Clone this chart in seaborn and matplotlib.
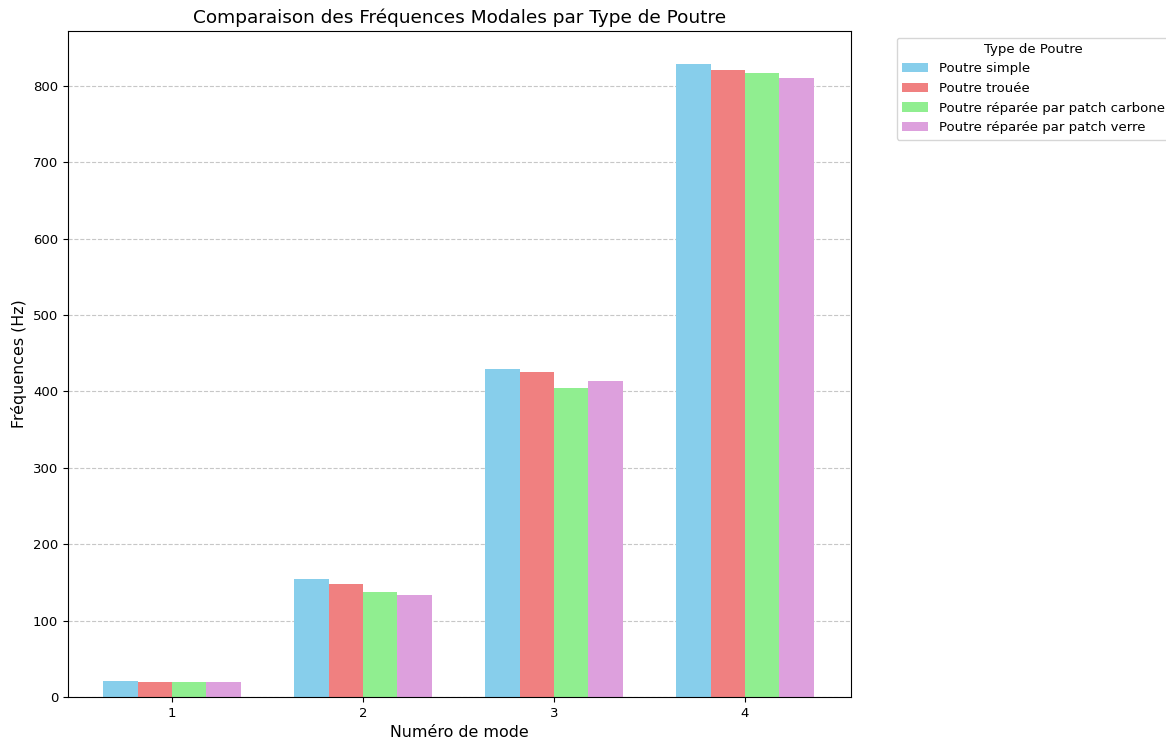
import matplotlib
matplotlib.use("Agg")
import matplotlib.pyplot as plt
import pandas as pd
import seaborn as sns

# Modal frequencies (Hz) for the first four modes of each beam type
modes = ["1", "2", "3", "4"]
poutre_simple = [21, 154, 430, 829]
poutre_trouee = [19, 148, 425.5, 820.5]
poutre_patch_carbone = [19, 137.5, 404, 817]
poutre_patch_verre = [19, 134, 414, 810]

series_names = [
    "Poutre simple",
    "Poutre trouée",
    "Poutre réparée par patch carbone",
    "Poutre réparée par patch verre",
]
series_values = [poutre_simple, poutre_trouee, poutre_patch_carbone, poutre_patch_verre]
palette = ["skyblue", "lightcoral", "lightgreen", "plum"]

rows = []
for name, vals in zip(series_names, series_values):
    for m, v in zip(modes, vals):
        rows.append({"Mode": m, "Fréquence": v, "Type de Poutre": name})
df = pd.DataFrame(rows)

plt.rcParams["font.size"] = 9.5

fig = plt.figure(figsize=(11.66, 7.42), dpi=100)
ax = fig.add_axes([68 / 1166, 1 - 697 / 742, (851 - 68) / 1166, (697 - 31) / 742])

sns.barplot(
    data=df, x="Mode", y="Fréquence", hue="Type de Poutre",
    hue_order=series_names, palette=palette, width=0.72,
    saturation=1, ax=ax, errorbar=None, legend=True,
)

ax.set_xlim(-0.545, 3.555)
ax.set_ylim(0, 872)
ax.set_title("Comparaison des Fréquences Modales par Type de Poutre", fontsize=13.3)
ax.set_xlabel("Numéro de mode", fontsize=11.4)
ax.set_ylabel("Fréquences (Hz)", fontsize=11.4)
ax.tick_params(labelsize=9.5)
ax.yaxis.grid(True, linestyle="--", alpha=0.7)
ax.set_axisbelow(True)

ax.legend(title="Type de Poutre", bbox_to_anchor=(1.05, 1), loc="upper left",
          fontsize=9.5, title_fontsize=9.5)

fig.savefig("out.png", dpi=100)
